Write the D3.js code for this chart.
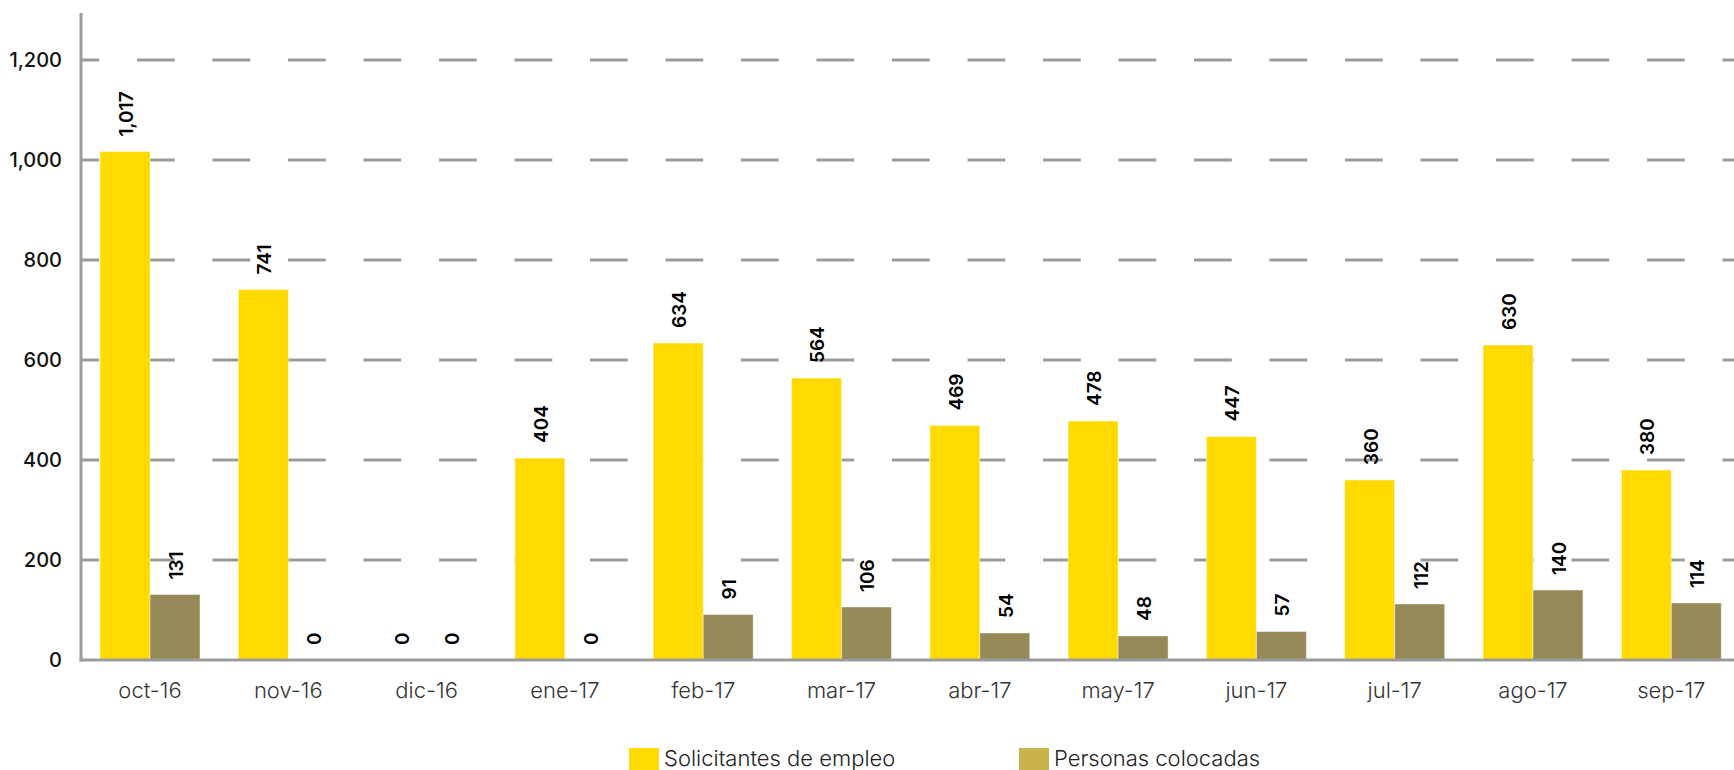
<!DOCTYPE html>
<html>
<head>
<meta charset="utf-8">
<script src="https://cdn.jsdelivr.net/npm/d3@7"></script>
<style>
  html, body { margin: 0; padding: 0; background: #fff; }
  svg { display: block; font-family: Inter, "Open Sans", sans-serif; }
</style>
</head>
<body>
<svg id="chart" width="1734" height="770"></svg>
<script>
// ---- data ----
const months = ["oct-16","nov-16","dic-16","ene-17","feb-17","mar-17","abr-17","may-17","jun-17","jul-17","ago-17","sep-17"];
const solicitantes = [1017, 741, 0, 404, 634, 564, 469, 478, 447, 360, 630, 380];
const colocadas = [131, 0, 0, 0, 91, 106, 54, 48, 57, 112, 140, 114];
const yTicks = [0, 200, 400, 600, 800, 1000, 1200];
const seriesNames = ["Solicitantes de empleo", "Personas colocadas"];
const barColors = ["#FFDA00", "#968958"];
const legendColors = ["#FFDA00", "#C8B44A"];

// ---- layout ----
const W = 1734, H = 770;
const axisX = 81, axisY = 660, axisTop = 13;
const svg = d3.select("#chart");

const y = d3.scaleLinear().domain([0, 1294]).range([axisY, axisTop]);
const x0 = d3.scaleBand().domain(months).range([axisX, 1740.3])
  .paddingInner(0.277).paddingOuter(0.1375);
const x1 = d3.scaleBand().domain([0, 1]).range([0, x0.bandwidth()]);

const fmt = d3.format(",");

// gridlines (dashed)
svg.append("g").selectAll("line")
  .data(yTicks.filter(d => d > 0))
  .join("line")
  .attr("x1", axisX).attr("x2", W)
  .attr("y1", d => y(d)).attr("y2", d => y(d))
  .attr("stroke", "#9b9b9b")
  .attr("stroke-width", 3)
  .attr("stroke-dasharray", "37.75 37.75")
  .attr("stroke-dashoffset", 19.5);

// y axis labels
const yAxis = d3.axisLeft(y).tickValues(yTicks).tickSize(0).tickPadding(19).tickFormat(fmt);
const gy = svg.append("g").attr("transform", `translate(${axisX},0)`).call(yAxis);
gy.select(".domain").remove();
gy.selectAll("text")
  .attr("font-family", "Inter, sans-serif")
  .attr("font-size", 20)
  .attr("font-weight", 500)
  .attr("fill", "#111");

// bars
const rows = months.map((m, i) => ({ m, vals: [solicitantes[i], colocadas[i]] }));
const groups = svg.append("g").selectAll("g")
  .data(rows).join("g")
  .attr("transform", d => `translate(${x0(d.m)},0)`);

groups.selectAll("rect")
  .data(d => d.vals.map((v, k) => ({ v, k })).filter(e => e.v > 0))
  .join("rect")
  .attr("x", e => x1(e.k))
  .attr("y", e => y(e.v))
  .attr("width", x1.bandwidth())
  .attr("height", e => y(0) - y(e.v))
  .attr("fill", e => barColors[e.k])
  .attr("stroke", "rgba(255,255,255,0.45)")
  .attr("stroke-width", 1);

// value labels (rotated)
groups.selectAll("text")
  .data(d => d.vals.map((v, k) => ({ v, k })))
  .join("text")
  .attr("transform", e => `translate(${x1(e.k) + x1.bandwidth() / 2 + 1},${y(e.v) - 15}) rotate(-90)`)
  .attr("dy", "0.36em")
  .attr("text-anchor", "start")
  .attr("font-family", "Inter, sans-serif")
  .attr("font-size", 19)
  .attr("font-weight", 600)
  .attr("fill", "#000")
  .text(e => fmt(e.v));

// axis lines
svg.append("line")
  .attr("x1", axisX).attr("x2", axisX)
  .attr("y1", y.range()[1]).attr("y2", axisY + 1.5)
  .attr("stroke", "#9b9b9b").attr("stroke-width", 3);
svg.append("line")
  .attr("x1", axisX - 1.5).attr("x2", W)
  .attr("y1", axisY).attr("y2", axisY)
  .attr("stroke", "#9b9b9b").attr("stroke-width", 3);

// x axis labels
const xAxis = d3.axisBottom(x0).tickSize(0).tickPadding(22);
const gx = svg.append("g").attr("transform", `translate(0,${axisY})`).call(xAxis);
gx.select(".domain").remove();
gx.selectAll("text")
  .attr("font-family", "Inter, sans-serif")
  .attr("font-size", 22)
  .attr("font-weight", 300)
  .attr("fill", "#333");

// legend
const legendX = d3.scalePoint().domain(seriesNames).range([629, 1019]);
const lg = svg.append("g").selectAll("g")
  .data(seriesNames).join("g")
  .attr("transform", d => `translate(${legendX(d)},748)`);
lg.append("rect")
  .attr("width", 30).attr("height", 30)
  .attr("fill", (d, i) => legendColors[i]);
lg.append("text")
  .attr("x", 35).attr("y", 18)
  .attr("font-family", "Inter, sans-serif")
  .attr("font-size", 22)
  .attr("font-weight", 300)
  .attr("fill", "#222")
  .text(d => d);
</script>
</body>
</html>
